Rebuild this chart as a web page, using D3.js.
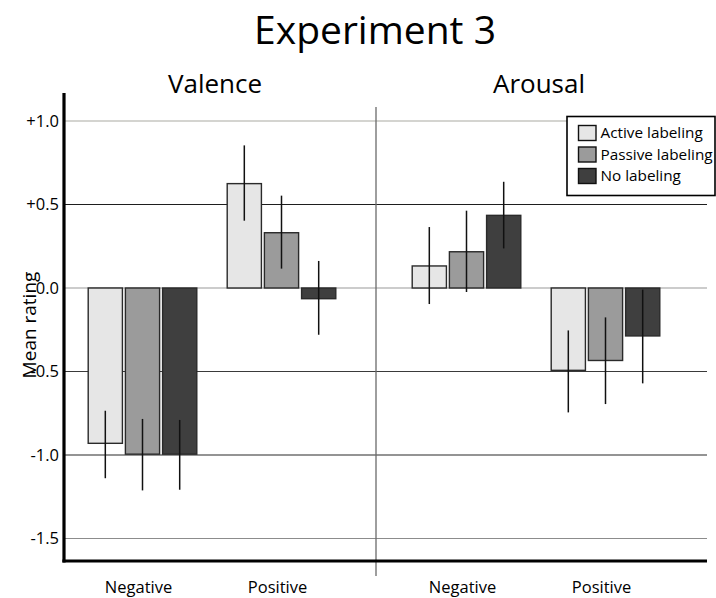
<!DOCTYPE html>
<html>
<head>
<meta charset="utf-8">
<script src="https://cdn.jsdelivr.net/npm/d3@7"></script>
<style>
  html, body { margin: 0; padding: 0; background: #fff; }
  text { font-family: "Open Sans", "Noto Sans", sans-serif; fill: #000; }
</style>
</head>
<body>
<svg id="chart" width="716" height="598"></svg>
<script>
// ---------- data ----------
const title = "Experiment 3";
const panels = ["Valence", "Arousal"];
const categories = ["Negative", "Positive"];
const series = ["Active labeling", "Passive labeling", "No labeling"];
const seriesColors = ["#e6e6e6", "#9b9b9b", "#3f3f3f"];
// means, order: Valence-Negative, Valence-Positive, Arousal-Negative, Arousal-Positive
const activeMean  = [-0.93, 0.625, 0.132, -0.493];
const passiveMean = [-0.995, 0.331, 0.217, -0.434];
const noMean      = [-0.995, -0.064, 0.435, -0.287];
// error bar ends (upper, lower)
const activeHigh  = [-0.735, 0.854, 0.365, -0.254];
const activeLow   = [-1.139, 0.403, -0.096, -0.745];
const passiveHigh = [-0.784, 0.553, 0.463, -0.176];
const passiveLow  = [-1.212, 0.116, -0.024, -0.695];
const noHigh      = [-0.79, 0.162, 0.636, -0.01];
const noLow       = [-1.208, -0.28, 0.237, -0.571];
const yTicks = [1.0, 0.5, 0.0, -0.5, -1.0, -1.5];
const yTickLabels = ["+1.0", "+0.5", "0.0", "-0.5", "-1.0", "-1.5"];
const gridColors = ["#a9a9a2", "#1e1e1e", "#9a9a9a", "#3a3a3a", "#2a2a2a", "#8c8c8c"];
const yLabel = "Mean rating";

// ---------- build rows ----------
const means = [activeMean, passiveMean, noMean];
const highs = [activeHigh, passiveHigh, noHigh];
const lows = [activeLow, passiveLow, noLow];
const rows = [];
panels.forEach((p, pi) => categories.forEach((c, ci) => series.forEach((s, si) => {
  const k = pi * 2 + ci;
  rows.push({panel: p, cat: c, series: s, si, v: means[si][k], hi: highs[si][k], lo: lows[si][k]});
})));

// ---------- layout ----------
const svg = d3.select("#chart");
const plotLeft = 64, plotRight = 707, axisBottomY = 561, dividerX = 376;

const y = d3.scaleLinear().domain([-1.5, 1.0]).range([538.5, 121]);
const xPanel = d3.scalePoint().domain(panels).range([212, 536]);
const xCat = d3.scalePoint().domain(categories).range([-69.5, 69.5]);
const xSeries = d3.scaleBand().domain(series).range([-54.3, 54.3]).paddingInner(0.08);
const color = d3.scaleOrdinal().domain(series).range(seriesColors);
const cx = d => xPanel(d.panel) + xCat(d.cat);

// gridlines
svg.append("g").selectAll("line").data(yTicks).join("line")
  .attr("x1", plotLeft).attr("x2", plotRight)
  .attr("y1", d => y(d)).attr("y2", d => y(d))
  .attr("stroke", (d, i) => gridColors[i]).attr("stroke-width", 1.2);

// y tick labels
svg.append("g").selectAll("text").data(yTicks).join("text")
  .attr("x", 59).attr("y", d => y(d)).attr("dy", "0.35em")
  .attr("text-anchor", "end").style("font-size", "16.5px")
  .text((d, i) => yTickLabels[i]);

// divider
svg.append("line").attr("x1", dividerX).attr("x2", dividerX)
  .attr("y1", 107).attr("y2", 576).attr("stroke", "#6a6a6a").attr("stroke-width", 1.3);

// bars
svg.append("g").selectAll("rect").data(rows).join("rect")
  .attr("x", d => cx(d) + xSeries(d.series))
  .attr("width", xSeries.bandwidth())
  .attr("y", d => y(Math.max(0, d.v)))
  .attr("height", d => Math.abs(y(d.v) - y(0)))
  .attr("fill", d => color(d.series))
  .attr("stroke", "#2a2a2a").attr("stroke-width", 1.4);

// error bars
svg.append("g").selectAll("line").data(rows).join("line")
  .attr("x1", d => cx(d) + xSeries(d.series) + xSeries.bandwidth() / 2)
  .attr("x2", d => cx(d) + xSeries(d.series) + xSeries.bandwidth() / 2)
  .attr("y1", d => y(d.hi)).attr("y2", d => y(d.lo))
  .attr("stroke", "#111").attr("stroke-width", 1.5);

// axes lines
svg.append("line").attr("x1", plotLeft).attr("x2", plotLeft)
  .attr("y1", 93).attr("y2", axisBottomY + 1.5)
  .attr("stroke", "#000").attr("stroke-width", 3.2);
svg.append("line").attr("x1", plotLeft - 1.6).attr("x2", plotRight)
  .attr("y1", axisBottomY).attr("y2", axisBottomY)
  .attr("stroke", "#000").attr("stroke-width", 3.2);

// x category labels
const catLabels = [];
panels.forEach(p => categories.forEach(c => catLabels.push({panel: p, cat: c})));
svg.append("g").selectAll("text").data(catLabels).join("text")
  .attr("x", d => cx(d) - 4).attr("y", 593)
  .attr("text-anchor", "middle").style("font-size", "16.5px")
  .text(d => d.cat);

// panel titles
svg.append("g").selectAll("text").data(panels).join("text")
  .attr("x", d => xPanel(d) + 3).attr("y", 93)
  .attr("text-anchor", "middle").style("font-size", "26px")
  .text(d => d);

// main title
svg.append("text").attr("x", 375).attr("y", 44)
  .attr("text-anchor", "middle").style("font-size", "39px")
  .text(title);

// y label
svg.append("text")
  .attr("transform", "translate(36,325) rotate(-90)")
  .attr("text-anchor", "middle").style("font-size", "19px")
  .text(yLabel);

// legend
const lg = svg.append("g");
lg.append("rect").attr("x", 567).attr("y", 116.5).attr("width", 148).attr("height", 79)
  .attr("fill", "#fff").attr("stroke", "#000").attr("stroke-width", 1.6);
const li = lg.selectAll("g.item").data(series).join("g").attr("class", "item")
  .attr("transform", (d, i) => `translate(578.5, ${125.5 + i * 21.5})`);
li.append("rect").attr("width", 17.5).attr("height", 15)
  .attr("fill", d => color(d)).attr("stroke", "#111").attr("stroke-width", 1.4);
li.append("text").attr("x", 22).attr("y", 7.5).attr("dy", "0.35em")
  .style("font-size", "15.3px").text(d => d);
</script>
</body>
</html>
